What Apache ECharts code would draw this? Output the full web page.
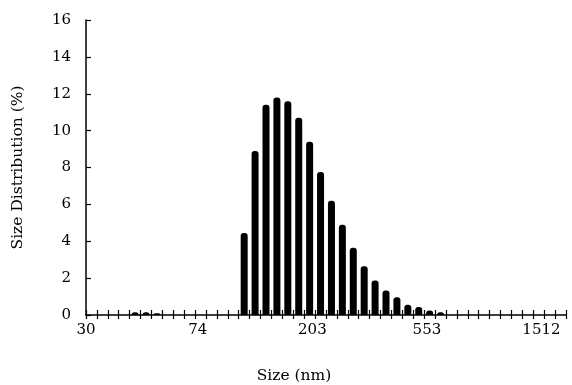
<!DOCTYPE html>
<html>
<head>
<meta charset="utf-8">
<script src="https://cdn.jsdelivr.net/npm/echarts@6/dist/echarts.min.js"></script>
<style>
  html, body { margin: 0; padding: 0; background: #fff; }
  #chart { width: 572px; height: 385px; }
</style>
</head>
<body>
<div id="chart"></div>
<script>
// log-size bins along the x axis (index of each bar) and their share in %
var binCount = 44;
var bins = [4, 5, 6, 14, 15, 16, 17, 18, 19, 20, 21, 22, 23, 24, 25, 26, 27, 28, 29, 30, 31, 32];
var dist = [0.15, 0.15, 0.1, 4.45, 8.9, 11.4, 11.8, 11.6, 10.7, 9.4, 7.75, 6.2, 4.9, 3.65, 2.65, 1.87, 1.33, 0.96, 0.55, 0.43, 0.24, 0.15];
// tick labels of the size axis (nm) and the bin where each one sits
var sizeLabels = ['30', '74', '203', '553', '1512'];
var sizeLabelBins = [0, 10.25, 20.75, 31.25, 41.75];
var yTicks = [0, 16, 2];

var font = 'DejaVu Serif';
var chart = echarts.init(document.getElementById('chart'));

var option = {
    animation: false,
    grid: { left: 86, right: 6, top: 20, bottom: 70, outerBoundsMode: 'none' },
    xAxis: [
        {
            type: 'value', position: 'bottom', min: 0, max: binCount, interval: 1,
            axisLine: { show: true, lineStyle: { color: '#000', width: 1.5 } },
            axisTick: { show: true, inside: false, length: 4, lineStyle: { color: '#000', width: 1.2 } },
            axisLabel: { show: false },
            splitLine: { show: false }
        },
        {
            type: 'value', position: 'bottom', offset: 0, min: 0, max: binCount, interval: 1,
            axisLine: { show: false },
            axisTick: { show: true, inside: true, length: 5, lineStyle: { color: '#000', width: 1.2 } },
            axisLabel: { show: false },
            splitLine: { show: false }
        },
        {
            type: 'value', position: 'bottom', offset: 0, min: 0, max: binCount, interval: 0.25,
            axisLine: { show: false },
            axisTick: { show: false },
            splitLine: { show: false },
            axisLabel: {
                show: true, margin: 8, color: '#000', fontFamily: font, fontSize: 15,
                formatter: function (v) {
                    for (var k = 0; k < sizeLabelBins.length; k++) {
                        if (Math.abs(v - sizeLabelBins[k]) < 1e-6) return sizeLabels[k];
                    }
                    return '';
                }
            },
            name: 'Size (nm)', nameLocation: 'middle', nameGap: 53,
            nameTextStyle: { color: '#000', fontFamily: font, fontSize: 15.5, padding: [0, 64, 0, 0] }
        }
    ],
    yAxis: {
        type: 'value', min: yTicks[0], max: yTicks[1], interval: yTicks[2],
        axisLine: { show: true, lineStyle: { color: '#000', width: 1.5 } },
        axisTick: { show: true, inside: true, length: 5, lineStyle: { color: '#000', width: 1.2 } },
        axisLabel: { color: '#000', fontFamily: font, fontSize: 15, margin: 15 },
        splitLine: { show: false },
        name: 'Size Distribution (%)', nameLocation: 'middle', nameGap: 60, nameRotate: 90,
        nameTextStyle: { color: '#000', fontFamily: font, fontSize: 15.5 }
    },
    series: [{
        type: 'bar',
        xAxisIndex: 0,
        barWidth: 7,
        itemStyle: { color: '#000', borderRadius: [3, 3, 0, 0] },
        data: bins.map(function (b, i) { return [b + 0.5, dist[i]]; })
    }]
};

chart.setOption(option);
</script>
</body>
</html>
